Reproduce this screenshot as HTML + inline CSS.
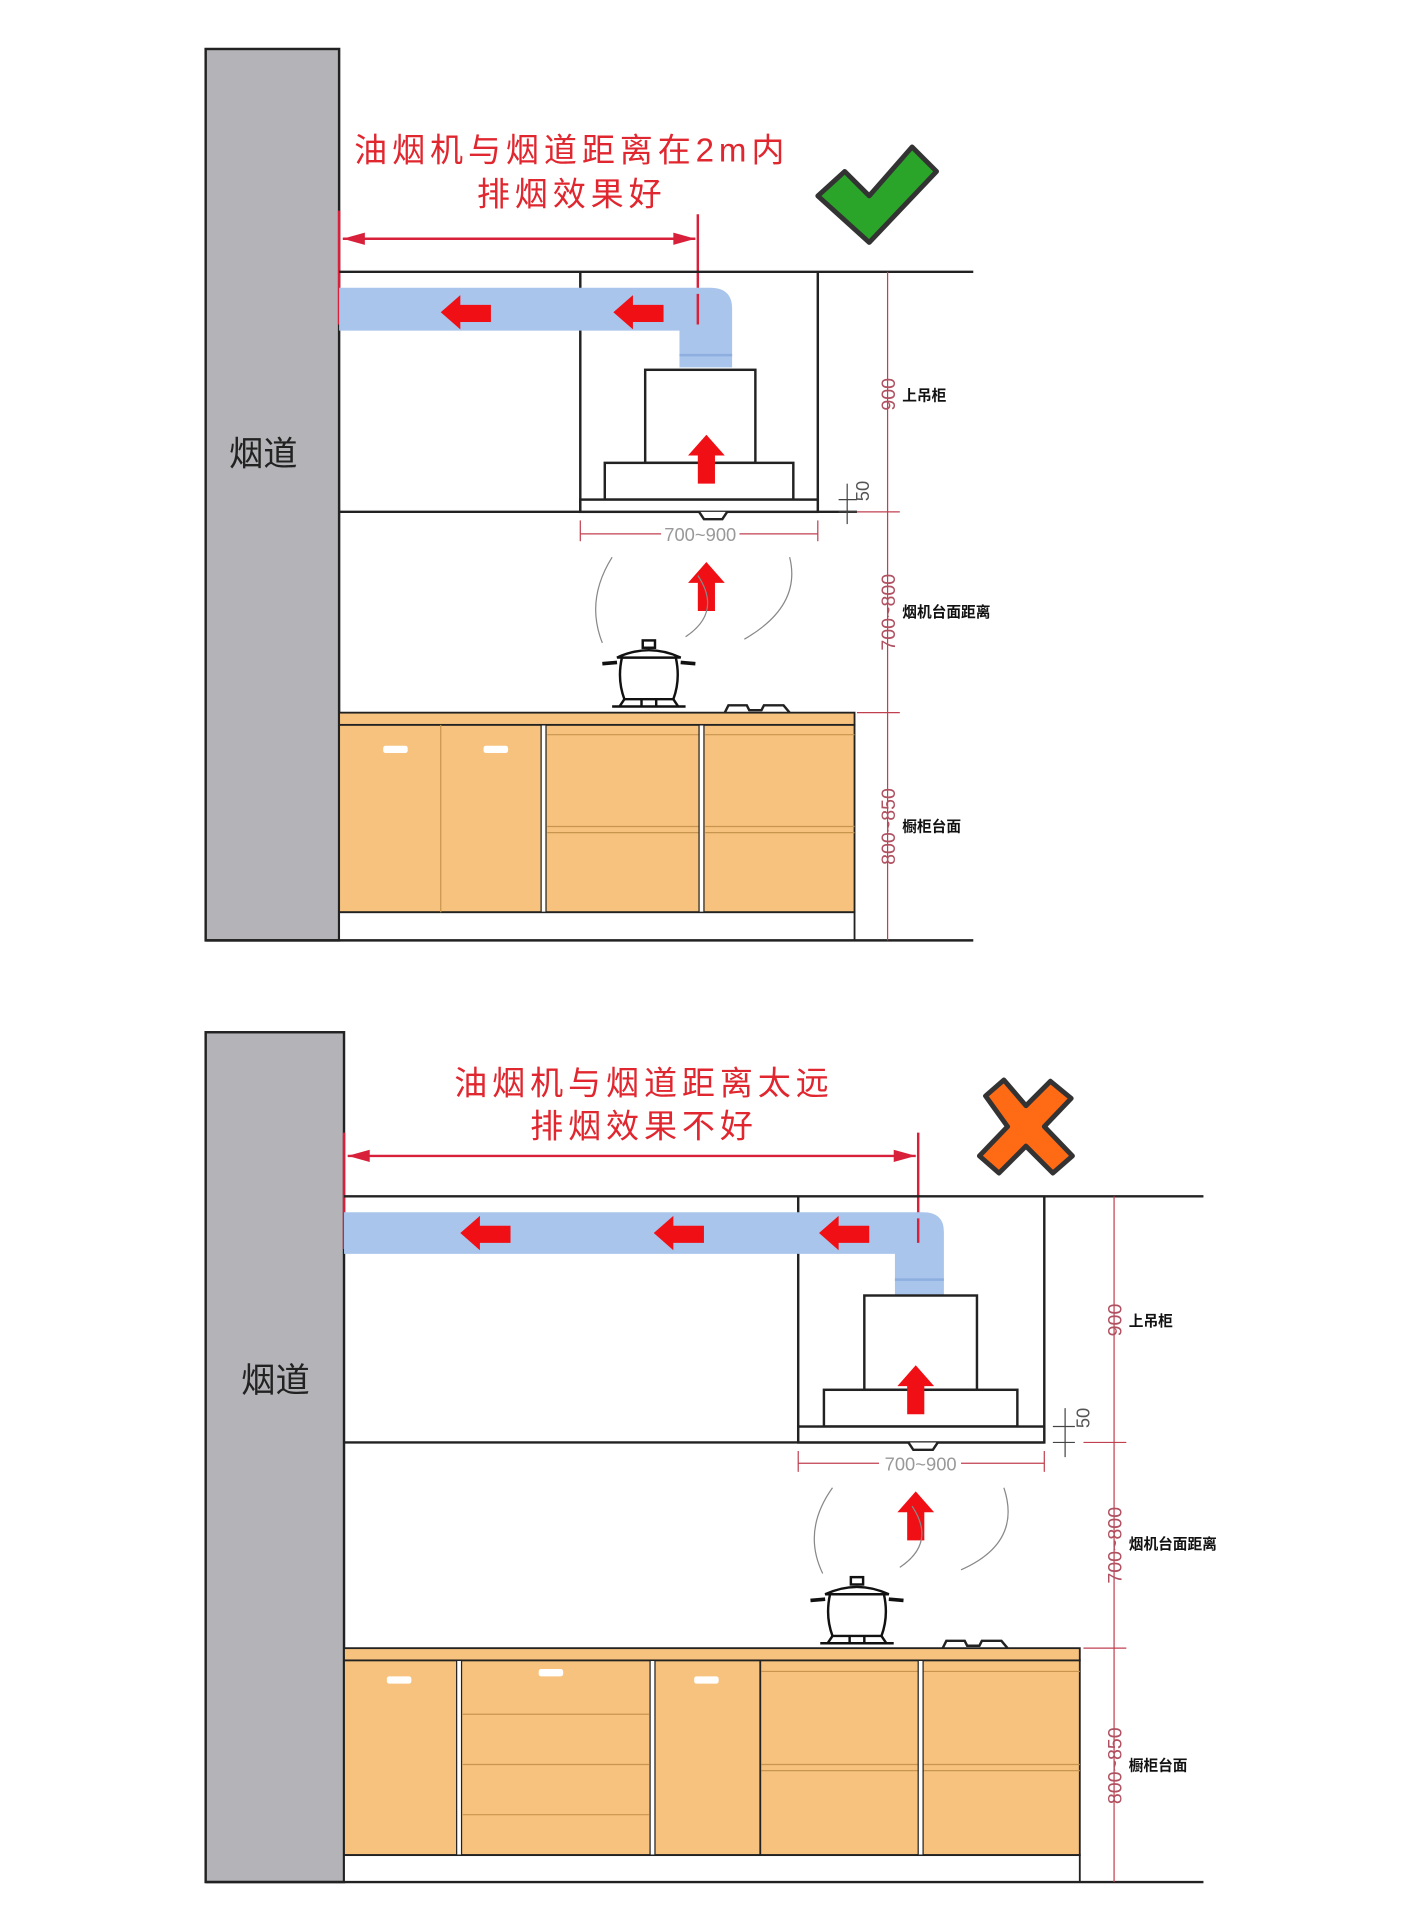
<!DOCTYPE html>
<html><head><meta charset="utf-8"><style>
html,body{margin:0;padding:0;background:#fff;}
svg{display:block}
.t{font-family:"Liberation Sans","Noto Sans CJK SC",sans-serif;}
</style></head><body>
<svg width="1403" height="1920" viewBox="0 0 1146 1568" preserveAspectRatio="none" xmlns="http://www.w3.org/2000/svg">
<defs>
<g id="au"><polygon points="0,-20 15,-3 7,-3 7,20 -7,20 -7,-3 -15,-3" fill="#f00f14"/></g>
<g id="al"><polygon points="-21,0 -5,-14 -5,-6 20,-6 20,8 -5,8 -5,14" fill="#f00f14"/></g>
<g id="pot" fill="#fff" stroke="#111" stroke-width="2">
<path d="M-22,-18 L22,-18 Q26,0 20,16 L-20,16 Q-26,0 -22,-18Z"/>
<path d="M-26,-18 Q0,-30 26,-18Z"/>
<rect x="-5" y="-32" width="10" height="6"/>
<path d="M-26,-14 L-38,-13 M26,-14 L38,-13" stroke-width="3"/>
<path d="M-30,22 L30,22" stroke-width="2"/>
<path d="M-20,16 L-24,22 M20,16 L24,22 M-6,16 L-6,22 M6,16 L6,22"/>
</g>
</defs>
<rect width="1146" height="1568" fill="#fff"/>

<!-- ================= TOP ================= -->
<rect x="168" y="40" width="109" height="728" fill="#b4b4b8" stroke="#222" stroke-width="2"/>
<text x="215" y="380" class="t" font-size="28" fill="#222" text-anchor="middle">烟道</text>
<text x="467" y="132" class="t" font-size="27" letter-spacing="4" fill="#e0262e" text-anchor="middle">油烟机与烟道距离在2m内</text>
<text x="467" y="168" class="t" font-size="27" letter-spacing="4" fill="#e0262e" text-anchor="middle">排烟效果好</text>
<path d="M668,160 L690,140 L710,160 L745,120 L765,140 L710,198 Z" fill="#2aa52a" stroke="#333" stroke-width="4" stroke-linejoin="round"/>
<g stroke="#d8203a" stroke-width="2" fill="none">
<line x1="277" y1="172" x2="277" y2="265"/>
<line x1="570" y1="175" x2="570" y2="265"/>
<line x1="280" y1="195" x2="568" y2="195"/>
</g>
<polygon points="280,195 298,190 298,200" fill="#d8203a"/>
<polygon points="568,195 550,190 550,200" fill="#d8203a"/>
<g stroke="#222" stroke-width="2" fill="none">
<line x1="277" y1="222" x2="795" y2="222"/>
<line x1="277" y1="418" x2="700" y2="418"/>
<line x1="474" y1="222" x2="474" y2="418"/>
<line x1="668" y1="222" x2="668" y2="418"/>
</g>
<path d="M277,235 L580,235 Q598,235 598,252 L598,300 L555,300 L555,270 L277,270 Z" fill="#a9c5ec"/>
<line x1="555" y1="290" x2="598" y2="290" stroke="#8eaee0" stroke-width="2"/>
<line x1="570" y1="240" x2="570" y2="265" stroke="#d8203a" stroke-width="2"/>
<use href="#al" x="381" y="255"/>
<use href="#al" x="522" y="255"/>
<g stroke="#222" stroke-width="2" fill="#fff">
<rect x="527" y="302" width="90" height="76"/>
<rect x="494" y="378" width="154" height="30"/>
<rect x="474" y="408" width="194" height="10"/>
<path d="M571,418 L575,424 L590,424 L594,418"/>
</g>
<use href="#au" x="577" y="375"/>
<g stroke="#444" stroke-width="1"><line x1="685" y1="408" x2="700" y2="408"/><line x1="685" y1="418" x2="700" y2="418"/><line x1="692" y1="395" x2="692" y2="428"/></g>
<text class="t" font-size="15" fill="#555" transform="translate(710,401) rotate(-90)" text-anchor="middle">50</text>
<g stroke="#c04050" stroke-width="1"><line x1="474" y1="425" x2="474" y2="442"/><line x1="668" y1="425" x2="668" y2="442"/><line x1="474" y1="436" x2="540" y2="436"/><line x1="604" y1="436" x2="668" y2="436"/></g>
<text x="572" y="442" class="t" font-size="15" fill="#999" text-anchor="middle">700~900</text>
<use href="#au" x="577" y="479"/>
<g stroke="#888" stroke-width="1" fill="none"><path d="M500,455 Q478,490 492,525"/><path d="M645,455 Q655,495 608,522"/><path d="M570,470 Q590,500 560,520"/></g>
<use href="#pot" x="530" y="555"/>
<path d="M592,582 L595,576 L610,576 L612,580 L622,580 L624,576 L640,576 L645,582" stroke="#222" stroke-width="2" fill="none"/>
<rect x="277" y="582" width="421" height="10" fill="#f6c27e" stroke="#222" stroke-width="1.5"/>
<rect x="277" y="592" width="421" height="153" fill="#f6c27e" stroke="#222" stroke-width="1.5"/>
<rect x="277" y="745" width="421" height="23" fill="#fff" stroke="#222" stroke-width="1.5"/>
<g stroke="#c8954e" stroke-width="1">
<line x1="360" y1="592" x2="360" y2="745"/>
<line x1="447" y1="600" x2="571" y2="600"/><line x1="447" y1="675" x2="571" y2="675"/><line x1="447" y1="680" x2="571" y2="680"/>
<line x1="576" y1="600" x2="698" y2="600"/><line x1="576" y1="675" x2="698" y2="675"/><line x1="576" y1="680" x2="698" y2="680"/>
</g>
<g fill="#fff" stroke="#222" stroke-width="1"><rect x="442" y="592" width="4" height="153"/><rect x="571" y="592" width="4" height="153"/></g>
<rect x="313" y="609" width="20" height="6" rx="2" fill="#fff"/><rect x="395" y="609" width="20" height="6" rx="2" fill="#fff"/>
<line x1="168" y1="768" x2="795" y2="768" stroke="#222" stroke-width="2"/>
<g stroke="#c04050" stroke-width="1"><line x1="725" y1="222" x2="725" y2="768"/><line x1="700" y1="418" x2="735" y2="418"/><line x1="700" y1="582" x2="735" y2="582"/></g>
<g class="t" font-size="16" fill="#b05060" text-anchor="middle">
<text transform="translate(731,322) rotate(-90)">900</text>
<text transform="translate(731,500) rotate(-90)">700~800</text>
<text transform="translate(731,675) rotate(-90)">800~850</text>
</g>
<g class="t" font-size="12" font-weight="bold" fill="#111">
<text x="737" y="327">上吊柜</text><text x="737" y="504">烟机台面距离</text><text x="737" y="679">橱柜台面</text>
</g>

<!-- ================= BOTTOM ================= -->
<rect x="168" y="843" width="113" height="694" fill="#b4b4b8" stroke="#222" stroke-width="2"/>
<text x="225" y="1137" class="t" font-size="28" fill="#222" text-anchor="middle">烟道</text>
<text x="526" y="894" class="t" font-size="27" letter-spacing="4" fill="#e0262e" text-anchor="middle">油烟机与烟道距离太远</text>
<text x="526" y="929" class="t" font-size="27" letter-spacing="4" fill="#e0262e" text-anchor="middle">排烟效果不好</text>
<path d="M805,895 L820,882 L838,903 L858,883 L875,897 L853,920 L876,944 L860,958 L838,936 L816,958 L800,944 L823,920 Z" fill="#ff6a14" stroke="#333" stroke-width="4" stroke-linejoin="round"/>
<g stroke="#d8203a" stroke-width="2"><line x1="281" y1="925" x2="281" y2="1020"/><line x1="750" y1="925" x2="750" y2="1020"/><line x1="284" y1="944" x2="748" y2="944"/></g>
<polygon points="284,944 302,939 302,949" fill="#d8203a"/><polygon points="748,944 730,939 730,949" fill="#d8203a"/>
<g stroke="#222" stroke-width="2" fill="none">
<line x1="281" y1="977" x2="983" y2="977"/>
<line x1="281" y1="1178" x2="853" y2="1178"/>
<line x1="652" y1="977" x2="652" y2="1178"/>
<line x1="853" y1="977" x2="853" y2="1178"/>
</g>
<path d="M281,990 L754,990 Q771,990 771,1006 L771,1058 L731,1058 L731,1024 L281,1024 Z" fill="#a9c5ec"/>
<line x1="731" y1="1045" x2="771" y2="1045" stroke="#8eaee0" stroke-width="2"/>
<line x1="750" y1="995" x2="750" y2="1015" stroke="#d8203a" stroke-width="2"/>
<use href="#al" x="397" y="1007"/><use href="#al" x="555" y="1007"/><use href="#al" x="690" y="1007"/>
<g stroke="#222" stroke-width="2" fill="#fff">
<rect x="706" y="1058" width="92" height="77"/>
<rect x="673" y="1135" width="158" height="30"/>
<rect x="652" y="1165" width="201" height="13"/>
<path d="M742,1178 L746,1184 L762,1184 L766,1178"/>
</g>
<use href="#au" x="748" y="1135"/>
<g stroke="#444" stroke-width="1"><line x1="860" y1="1165" x2="878" y2="1165"/><line x1="860" y1="1178" x2="878" y2="1178"/><line x1="870" y1="1150" x2="870" y2="1190"/></g>
<text class="t" font-size="15" fill="#555" transform="translate(890,1158) rotate(-90)" text-anchor="middle">50</text>
<g stroke="#c04050" stroke-width="1"><line x1="652" y1="1185" x2="652" y2="1202"/><line x1="853" y1="1185" x2="853" y2="1202"/><line x1="652" y1="1195" x2="718" y2="1195"/><line x1="785" y1="1195" x2="853" y2="1195"/></g>
<text x="752" y="1201" class="t" font-size="15" fill="#999" text-anchor="middle">700~900</text>
<use href="#au" x="748" y="1238"/>
<g stroke="#888" stroke-width="1" fill="none"><path d="M680,1215 Q655,1250 672,1285"/><path d="M820,1215 Q835,1260 785,1282"/><path d="M745,1230 Q765,1260 735,1280"/></g>
<use href="#pot" x="700" y="1320"/>
<path d="M770,1346 L773,1340 L788,1340 L790,1344 L800,1344 L802,1340 L818,1340 L823,1346" stroke="#222" stroke-width="2" fill="none"/>
<rect x="281" y="1346" width="601" height="10" fill="#f6c27e" stroke="#222" stroke-width="1.5"/>
<rect x="281" y="1356" width="601" height="159" fill="#f6c27e" stroke="#222" stroke-width="1.5"/>
<rect x="281" y="1515" width="601" height="22" fill="#fff" stroke="#222" stroke-width="1.5"/>
<g stroke="#c8954e" stroke-width="1">
<line x1="378" y1="1400" x2="530" y2="1400"/><line x1="378" y1="1441" x2="530" y2="1441"/><line x1="378" y1="1482" x2="530" y2="1482"/>
<line x1="622" y1="1365" x2="750" y2="1365"/><line x1="622" y1="1441" x2="750" y2="1441"/><line x1="622" y1="1446" x2="750" y2="1446"/>
<line x1="754" y1="1365" x2="882" y2="1365"/><line x1="754" y1="1441" x2="882" y2="1441"/><line x1="754" y1="1446" x2="882" y2="1446"/>
</g>
<g fill="#fff" stroke="#222" stroke-width="1"><rect x="373" y="1356" width="4" height="159"/><rect x="531" y="1356" width="4" height="159"/><rect x="750" y="1356" width="4" height="159"/></g>
<line x1="621" y1="1356" x2="621" y2="1515" stroke="#222" stroke-width="1.5"/>
<rect x="316" y="1369" width="20" height="6" rx="2" fill="#fff"/><rect x="440" y="1363" width="20" height="6" rx="2" fill="#fff"/><rect x="567" y="1369" width="20" height="6" rx="2" fill="#fff"/>
<line x1="168" y1="1537" x2="983" y2="1537" stroke="#222" stroke-width="2"/>
<g stroke="#c04050" stroke-width="1"><line x1="910" y1="977" x2="910" y2="1537"/><line x1="885" y1="1178" x2="920" y2="1178"/><line x1="885" y1="1346" x2="920" y2="1346"/></g>
<g class="t" font-size="16" fill="#b05060" text-anchor="middle">
<text transform="translate(916,1078) rotate(-90)">900</text>
<text transform="translate(916,1262) rotate(-90)">700~800</text>
<text transform="translate(916,1442) rotate(-90)">800~850</text>
</g>
<g class="t" font-size="12" font-weight="bold" fill="#111">
<text x="922" y="1083">上吊柜</text><text x="922" y="1265">烟机台面距离</text><text x="922" y="1446">橱柜台面</text>
</g>
</svg>
</body></html>
